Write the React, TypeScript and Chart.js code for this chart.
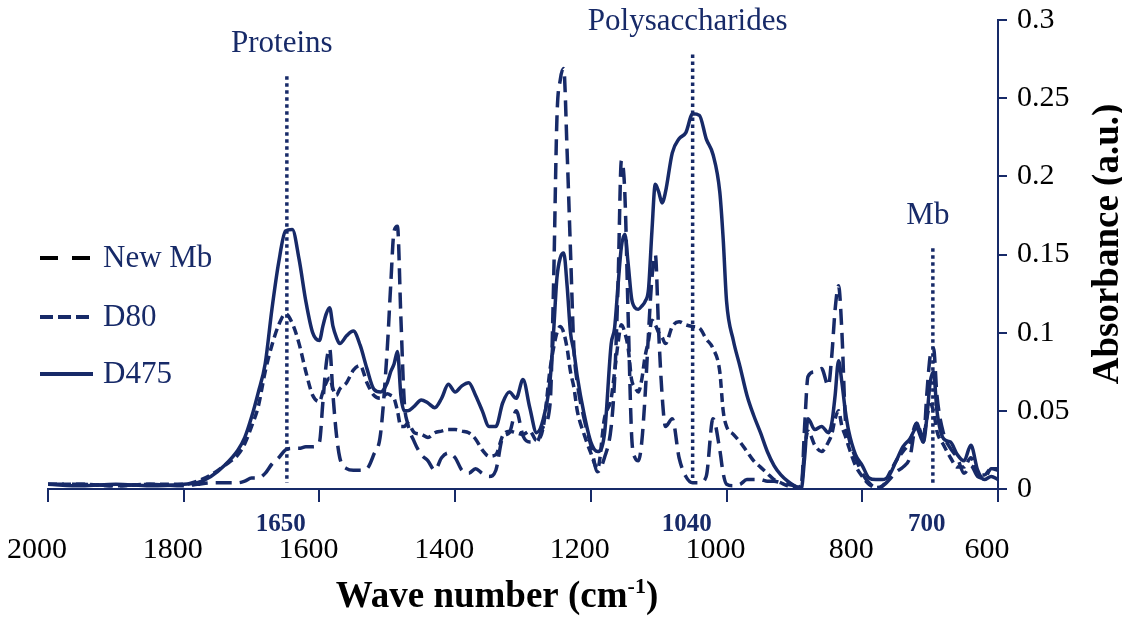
import React, { useEffect, useRef } from 'react';
import { Chart, registerables } from 'chart.js';

Chart.register(...registerables);

const NAVY = '#172a68';
const SERIF = '"Liberation Serif", "Times New Roman", serif';

// wave numbers (cm-1), shared by the three spectra
const wavenumbers = [
  2000, 1950, 1900, 1850, 1800, 1780, 1760, 1740, 1720, 1710,
  1700, 1690, 1680, 1670, 1660, 1650, 1640, 1630, 1620, 1610,
  1600, 1595, 1590, 1585, 1580, 1575, 1570, 1560, 1550, 1540,
  1530, 1520, 1510, 1500, 1495, 1490, 1485, 1480, 1475, 1470,
  1460, 1450, 1440, 1430, 1420, 1410, 1400, 1390, 1380, 1370,
  1360, 1350, 1340, 1330, 1320, 1310, 1300, 1290, 1280, 1270,
  1260, 1255, 1250, 1245, 1240, 1235, 1230, 1225, 1220, 1210,
  1200, 1190, 1180, 1170, 1165, 1160, 1155, 1150, 1145, 1140,
  1135, 1130, 1125, 1120, 1115, 1110, 1105, 1100, 1095, 1090,
  1080, 1070, 1060, 1050, 1040, 1030, 1020, 1010, 1005, 1000,
  990, 980, 970, 960, 950, 940, 930, 920, 910, 900,
  890, 885, 880, 870, 860, 850, 845, 840, 835, 830,
  825, 820, 810, 800, 790, 780, 770, 760, 750, 740,
  730, 720, 710, 705, 700, 695, 690, 680, 670, 660,
  650, 640, 630, 620, 610, 600,
];

// absorbance (a.u.)
const newMb = [
  0.003, 0.003, 0.002, 0.003, 0.002, 0.003, 0.004, 0.004, 0.004, 0.005,
  0.007, 0.007, 0.01, 0.016, 0.02, 0.025, 0.026, 0.026, 0.027, 0.027,
  0.03, 0.055, 0.08, 0.09, 0.06, 0.035, 0.02, 0.013, 0.012, 0.012,
  0.013, 0.022, 0.035, 0.09, 0.13, 0.165, 0.168, 0.11, 0.056, 0.042,
  0.03, 0.022, 0.018, 0.012, 0.02, 0.023, 0.02, 0.012, 0.01, 0.013,
  0.01, 0.008, 0.012, 0.033, 0.036, 0.05, 0.034, 0.03, 0.03, 0.04,
  0.055, 0.13, 0.237, 0.262, 0.269, 0.216, 0.152, 0.09, 0.068, 0.045,
  0.028, 0.011, 0.02, 0.04, 0.07, 0.13, 0.21, 0.19, 0.11, 0.035,
  0.02, 0.018, 0.03, 0.06, 0.1, 0.135, 0.15, 0.1, 0.06, 0.04,
  0.045, 0.02, 0.008, 0.004, 0.004, 0.008, 0.045, 0.025, 0.01, 0.003,
  0.002, 0.003, 0.006, 0.006, 0.006, 0.005, 0.005, 0.004, 0.003, 0.002,
  0.0, 0.04, 0.072, 0.075, 0.077, 0.066, 0.085, 0.115, 0.13, 0.1,
  0.045, 0.033, 0.02, 0.01, 0.004, 0.001, 0.002, 0.006, 0.011, 0.014,
  0.02, 0.042, 0.03, 0.06, 0.085, 0.09, 0.06, 0.035, 0.026, 0.02,
  0.01, 0.015, 0.008, 0.007, 0.013, 0.013,
];

const d80 = [
  0.003, 0.003, 0.002, 0.003, 0.003, 0.005, 0.009, 0.015, 0.022, 0.029,
  0.04, 0.053, 0.075, 0.092, 0.105, 0.112, 0.106, 0.093, 0.075, 0.06,
  0.056, 0.062, 0.068, 0.071, 0.064, 0.06, 0.064, 0.068, 0.076, 0.079,
  0.068, 0.06, 0.058, 0.061, 0.06, 0.058, 0.05, 0.04, 0.04, 0.042,
  0.036, 0.035, 0.033, 0.036, 0.037, 0.038, 0.038, 0.037, 0.036, 0.032,
  0.025, 0.021, 0.022, 0.034, 0.037, 0.036, 0.035, 0.037, 0.031, 0.04,
  0.077, 0.09, 0.1, 0.104, 0.1, 0.09, 0.075, 0.065, 0.05, 0.035,
  0.023, 0.013, 0.045, 0.058, 0.075, 0.093, 0.105, 0.1, 0.09, 0.07,
  0.065, 0.062, 0.07, 0.085, 0.095, 0.108, 0.105, 0.1, 0.097, 0.093,
  0.104, 0.107, 0.105, 0.104, 0.103, 0.096, 0.09, 0.075, 0.05, 0.04,
  0.035, 0.03, 0.024, 0.018, 0.014, 0.01, 0.006, 0.004, 0.002, 0.001,
  0.002, 0.025, 0.037, 0.028, 0.024, 0.03, 0.035, 0.045, 0.05, 0.04,
  0.034, 0.027, 0.015, 0.008, 0.003, 0.001, 0.002, 0.01, 0.018, 0.024,
  0.03, 0.042, 0.033, 0.045, 0.054, 0.05, 0.037, 0.028, 0.02, 0.014,
  0.014, 0.02, 0.01, 0.009, 0.013, 0.012,
];

const d475 = [
  0.003, 0.002, 0.003, 0.002, 0.003, 0.004, 0.008, 0.015, 0.025, 0.033,
  0.046, 0.062, 0.08, 0.115, 0.145, 0.165, 0.166, 0.147, 0.12, 0.1,
  0.095, 0.104, 0.112, 0.116, 0.104, 0.097, 0.093, 0.098, 0.101, 0.092,
  0.077, 0.064, 0.062, 0.068, 0.075, 0.08, 0.088, 0.06, 0.05, 0.05,
  0.053, 0.057, 0.055, 0.052, 0.058, 0.067, 0.062, 0.066, 0.068, 0.06,
  0.05, 0.04, 0.04, 0.055, 0.062, 0.058, 0.07, 0.052, 0.036, 0.045,
  0.07, 0.1, 0.135, 0.148, 0.151, 0.13, 0.1, 0.088, 0.072, 0.048,
  0.03, 0.024, 0.035, 0.093, 0.103, 0.13, 0.155, 0.163, 0.144, 0.122,
  0.116, 0.115, 0.117, 0.12, 0.128, 0.165, 0.195, 0.19, 0.183, 0.19,
  0.215, 0.224, 0.228, 0.24, 0.239, 0.224, 0.214, 0.19, 0.16, 0.12,
  0.095, 0.078, 0.06, 0.047, 0.036, 0.024, 0.015, 0.009, 0.005, 0.002,
  0.0, 0.02, 0.045, 0.038, 0.04, 0.036, 0.042, 0.06, 0.082, 0.068,
  0.05, 0.037, 0.022, 0.015, 0.007, 0.006, 0.006, 0.009, 0.018, 0.027,
  0.032, 0.039, 0.03, 0.045, 0.068, 0.075, 0.05, 0.032, 0.03, 0.022,
  0.018, 0.028, 0.012, 0.006, 0.008, 0.006,
];

const seriesNames = ['New Mb', 'D80', 'D475'];

// dotted band markers
const markerWaves = [1648, 1050, 696];
const markerTops = [0.264, 0.278, 0.154];
const markerNumbers = ['1650', '1040', '700'];
const groupNames = ['Proteins', 'Polysaccharides', 'Mb'];

const toPoints = (values: number[]) => values.map((v, i) => ({ x: wavenumbers[i], y: v }));

const overlay = {
  id: 'overlay',
  beforeDatasetsDraw(chart: any) {
    const { ctx, scales } = chart;
    const x = scales.x;
    const y = scales.y;
    ctx.save();
    ctx.strokeStyle = NAVY;
    ctx.lineWidth = 3.5;
    ctx.setLineDash([3.5, 3.5]);
    markerWaves.forEach((w, i) => {
      const px = x.getPixelForValue(w);
      ctx.beginPath();
      ctx.moveTo(px, y.getPixelForValue(markerTops[i]));
      ctx.lineTo(px, y.getPixelForValue(0.004));
      ctx.stroke();
    });
    ctx.restore();
  },
  afterDraw(chart: any) {
    const { ctx, scales } = chart;
    const x = scales.x;
    const y = scales.y;
    ctx.save();

    // band names and wave numbers
    ctx.fillStyle = NAVY;
    ctx.textAlign = 'center';
    ctx.textBaseline = 'alphabetic';
    markerWaves.forEach((w, i) => {
      const px = x.getPixelForValue(w);
      ctx.font = `31px ${SERIF}`;
      ctx.fillText(groupNames[i], px - 5, y.getPixelForValue(markerTops[i]) - 24);
      ctx.font = `bold 25px ${SERIF}`;
      ctx.fillText(markerNumbers[i], px - 6, chart.chartArea.bottom + 42);
    });

    // legend
    const rows = [258, 317, 374];
    const dashes = [[18, 14], [13, 5], []];
    const colors = ['#000000', NAVY, NAVY];
    seriesNames.forEach((name, i) => {
      ctx.strokeStyle = colors[i];
      ctx.lineWidth = 4;
      ctx.setLineDash(dashes[i]);
      ctx.beginPath();
      ctx.moveTo(40, rows[i]);
      ctx.lineTo(i === 2 ? 93 : 90, rows[i]);
      ctx.stroke();
      ctx.setLineDash([]);
      ctx.fillStyle = NAVY;
      ctx.font = `31px ${SERIF}`;
      ctx.textAlign = 'left';
      ctx.textBaseline = 'middle';
      ctx.fillText(name, 103, rows[i] + 1);
    });

    // x title with superscript
    ctx.fillStyle = '#000000';
    ctx.textBaseline = 'alphabetic';
    ctx.textAlign = 'left';
    const main = 'Wave number (cm';
    const sup = '-1';
    const close = ')';
    ctx.font = `bold 37px ${SERIF}`;
    const wMain = ctx.measureText(main).width;
    const wClose = ctx.measureText(close).width;
    ctx.font = `bold 22px ${SERIF}`;
    const wSup = ctx.measureText(sup).width;
    let tx = 497 - (wMain + wSup + wClose) / 2;
    const base = 607;
    ctx.font = `bold 37px ${SERIF}`;
    ctx.fillText(main, tx, base);
    tx += wMain;
    ctx.font = `bold 22px ${SERIF}`;
    ctx.fillText(sup, tx, base - 14);
    tx += wSup;
    ctx.font = `bold 37px ${SERIF}`;
    ctx.fillText(close, tx, base);

    // y title, reading upwards
    ctx.translate(1108, 244);
    ctx.rotate(-Math.PI / 2);
    ctx.textAlign = 'center';
    ctx.textBaseline = 'middle';
    ctx.font = `bold 37px ${SERIF}`;
    ctx.fillText('Absorbance (a.u.)', 0, 0);
    ctx.restore();
  },
};

const App: React.FC = () => {
  const chartRef = useRef<HTMLCanvasElement>(null);

  useEffect(() => {
    document.body.style.margin = '0';
    if (!chartRef.current) return;
    const context = chartRef.current.getContext('2d');
    if (!context) return;

    const lineStyle = {
      borderColor: NAVY,
      borderWidth: 3.5,
      pointRadius: 0,
      fill: false,
      cubicInterpolationMode: 'monotone' as const,
    };

    const chart = new Chart(context, {
      type: 'line',
      data: {
        datasets: [
          { label: seriesNames[0], data: toPoints(newMb), ...lineStyle, borderDash: [16, 8] },
          { label: seriesNames[1], data: toPoints(d80), ...lineStyle, borderDash: [9, 5] },
          { label: seriesNames[2], data: toPoints(d475), ...lineStyle },
        ],
      },
      options: {
        animation: false,
        responsive: false,
        layout: { padding: { left: 48, top: 20, right: 0, bottom: 0 } },
        plugins: {
          legend: { display: false },
          tooltip: { enabled: false },
        },
        scales: {
          x: {
            type: 'linear',
            reverse: true,
            min: 600,
            max: 2000,
            afterFit: (s: any) => {
              s.height = 129;
              s.paddingLeft = 0;
              s.paddingRight = 0;
            },
            border: { color: NAVY, width: 2 },
            grid: { drawOnChartArea: false, drawTicks: true, tickLength: 13, color: NAVY, lineWidth: 2 },
            ticks: {
              stepSize: 200,
              padding: 30,
              labelOffset: -11,
              color: '#000000',
              font: { family: SERIF, size: 30 },
              maxRotation: 0,
              autoSkip: false,
              callback: (v: any) => String(v),
            },
          },
          y: {
            position: 'right',
            min: 0,
            max: 0.3,
            afterFit: (s: any) => {
              s.width = 124;
              s.paddingTop = 0;
              s.paddingBottom = 0;
            },
            border: { color: NAVY, width: 2 },
            grid: { drawOnChartArea: false, drawTicks: true, tickLength: 9, color: NAVY, lineWidth: 2 },
            ticks: {
              stepSize: 0.05,
              padding: 10,
              color: '#000000',
              font: { family: SERIF, size: 30 },
              callback: (v: any) => String(Math.round(Number(v) * 100) / 100),
            },
          },
        },
      },
      plugins: [overlay],
    });

    return () => {
      chart.destroy();
    };
  }, []);

  return (
    <div style={{ width: 1122, height: 618, background: '#ffffff' }}>
      <canvas ref={chartRef} width={1122} height={618} style={{ width: 1122, height: 618 }} />
    </div>
  );
};

export default App;
